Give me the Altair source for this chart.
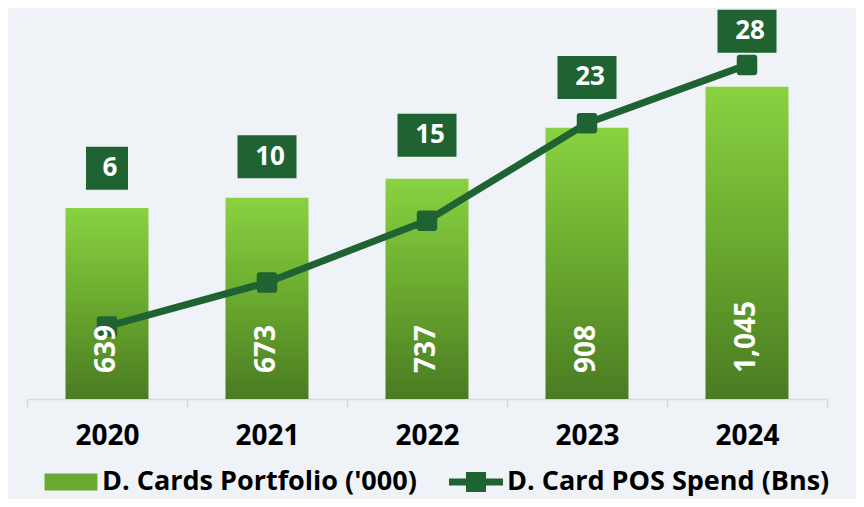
import altair as alt
import pandas as pd

# ---- data ----
years = ["2020", "2021", "2022", "2023", "2024"]
portfolio = [639, 673, 737, 908, 1045]          # D. Cards Portfolio ('000)
pos_spend = [6.1, 9.8, 15.0, 23.2, 28.1]        # D. Card POS Spend (Bns)
series_names = ["D. Cards Portfolio ('000)", "D. Card POS Spend (Bns)"]

df = pd.DataFrame({"year": years, "portfolio": portfolio, "spend": pos_spend})
legend_df = pd.DataFrame({"series": series_names, "year": [years[0]] * 2, "portfolio": [0, 0]})

FONT = "Open Sans"
DARK = "#1e6331"
BG = "#eff2f7"
BAR_MAX = 1305
LINE_MAX = 32.8

bar_gradient = alt.Gradient(
    gradient="linear",
    stops=[alt.GradientStop(color="#4a7b22", offset=0),
           alt.GradientStop(color="#6aa92f", offset=0.5),
           alt.GradientStop(color="#89d241", offset=1)],
    x1=1, x2=1, y1=1, y2=0,
)

x_enc = alt.X(
    "year:N", sort=years,
    scale=alt.Scale(paddingInner=0, paddingOuter=0),
    axis=alt.Axis(title=None, labelAngle=0, labelFont=FONT, labelFontSize=28,
                  labelFontWeight="bold", labelColor="black", labelPadding=15,
                  domainColor="#d9d9d9", domainWidth=1.5, tickColor="#d9d9d9",
                  tickWidth=1.5, tickSize=8, tickBand="extent", grid=False),
)


def ybar(field):
    return alt.Y(field, type="quantitative", scale=alt.Scale(domain=[0, BAR_MAX]), axis=None)


def yline(field):
    return alt.Y(field, type="quantitative", scale=alt.Scale(domain=[0, LINE_MAX]), axis=None)


base = alt.Chart(df).transform_calculate(
    zero="0",
    lab_lo="datum.portfolio * 1.13 + 50 - 72",
    lab_hi="datum.portfolio * 1.13 + 50 + 72",
    lab="datum.portfolio * 1.13 + 50",
)

bars = base.mark_bar(width=83, color=bar_gradient).encode(x=x_enc, y=ybar("portfolio"))

bar_text = base.mark_text(
    angle=270, align="left", baseline="middle", color="white",
    font=FONT, fontSize=28, fontWeight="bold", dx=26,
).encode(x=x_enc, y=ybar("zero"), text=alt.Text("portfolio:Q", format=","))

boxes_wide = base.transform_filter("datum.spend >= 9.5").mark_bar(color=DARK, width=59).encode(
    x=x_enc, y=ybar("lab_lo"), y2="lab_hi:Q")

boxes_narrow = base.transform_filter("datum.spend < 9.5").mark_bar(color=DARK, width=42).encode(
    x=x_enc, y=ybar("lab_lo"), y2="lab_hi:Q")

box_text = base.mark_text(
    color="white", font=FONT, fontSize=26, fontWeight="bold", baseline="middle", dx=3,
).encode(x=x_enc, y=ybar("lab"), text=alt.Text("spend:Q", format=".0f"))

rounded_sq = "M-0.7,-1H0.7Q1,-1 1,-0.7V0.7Q1,1 0.7,1H-0.7Q-1,1 -1,0.7V-0.7Q-1,-1 -0.7,-1Z"

line = base.mark_line(color=DARK, strokeWidth=7).encode(x=x_enc, y=yline("spend"))
pts = base.mark_point(filled=True, shape=rounded_sq, size=420, color=DARK, opacity=1).encode(
    x=x_enc, y=yline("spend"))

bar_sym = "M-0.98,-0.315H0.98V0.315H-0.98Z"
line_sym = "M-1,-0.13H-0.37V-0.37H0.37V-0.13H1V0.13H0.37V0.37H-0.37V0.13H-1Z"

leg = alt.Legend(
    title=None, orient="none", legendX=17, legendY=446, direction="horizontal",
    symbolSize=2916, symbolStrokeWidth=0, symbolOpacity=1,
    labelFont=FONT, labelFontSize=27, labelFontWeight="bold", labelColor="black",
    labelLimit=600, labelOffset=4, columnPadding=32,
)

legend_layer = alt.Chart(legend_df).mark_point(filled=True, opacity=0).encode(
    x=x_enc, y=ybar("portfolio"),
    fill=alt.Fill("series:N", scale=alt.Scale(domain=series_names, range=["#69aa32", DARK]), legend=leg),
    shape=alt.Shape("series:N", scale=alt.Scale(domain=series_names, range=[bar_sym, line_sym]), legend=leg),
)

chart = alt.layer(
    bars, line, pts, bar_text, boxes_wide, boxes_narrow, box_text, legend_layer
).resolve_scale(y="independent").properties(
    width=800, height=390,
    autosize=alt.AutoSizeParams(type="none"),
    padding={"left": 19, "top": 1, "right": 29, "bottom": 100},
    background=BG,
).configure_view(stroke=None)

chart.save("out.html", embed_options={"renderer": "svg", "actions": False})
